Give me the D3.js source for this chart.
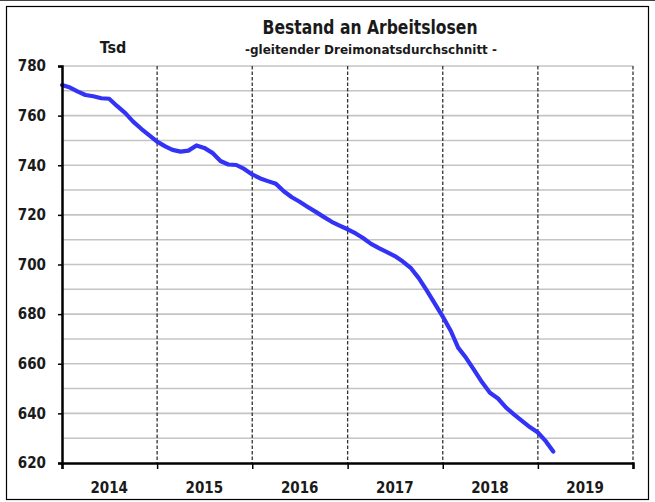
<!DOCTYPE html>
<html>
<head>
<meta charset="utf-8">
<script src="https://cdn.jsdelivr.net/npm/d3@7"></script>
<style>
  body { margin: 0; background: #fff; }
  svg text { font-family: "Liberation Sans Narrow", "DejaVu Sans Condensed", "Open Sans", sans-serif; font-weight: bold; fill: #1a1a1a; }
</style>
</head>
<body>
<div class="chart"></div>
<script>
// Bestand an Arbeitslosen, gleitender Dreimonatsdurchschnitt (Tsd), monthly from Jan 2014
var startMonth = new Date(2014, 0, 1);
var values = [
  772.3, 771.3, 769.8, 768.3, 767.8, 767.0, 766.8, 763.8, 761.0, 757.6, 754.7, 752.1,
  749.5, 747.6, 746.2, 745.5, 745.9, 748.0, 747.0, 745.0, 741.7, 740.3, 740.1, 738.5,
  736.3, 734.7, 733.6, 732.5, 729.5, 727.1, 725.3, 723.2, 721.2, 719.2, 717.2, 715.7,
  714.2, 712.5, 710.7, 708.3, 706.6, 705.0, 703.4, 701.2, 698.5, 694.5, 689.5, 684.3,
  679.0, 673.2, 666.5, 662.3, 657.5, 652.5, 648.3, 646.0, 642.3, 639.6, 637.0, 634.5,
  632.3, 628.7, 624.6
];
var years = [2014, 2015, 2016, 2017, 2018, 2019];
var yTicks = [620, 640, 660, 680, 700, 720, 740, 760, 780];
var title = "Bestand an Arbeitslosen";
var subtitle = "-gleitender Dreimonatsdurchschnitt -";
var unit = "Tsd";

var W = 655, H = 502;
var margin = {top: 66, right: 22, bottom: 39, left: 62};

var data = values.map((v, i) => ({date: d3.timeMonth.offset(startMonth, i), value: v}));

var x = d3.scaleTime()
  .domain([new Date(years[0], 0, 1), new Date(years[years.length - 1] + 1, 0, 1)])
  .range([margin.left, W - margin.right]);

var y = d3.scaleLinear()
  .domain([620, 780])
  .range([H - margin.bottom, margin.top]);

var svg = d3.select(".chart").append("svg")
  .attr("width", W)
  .attr("height", H);

// outer frame
svg.append("line")
  .attr("x1", 0).attr("x2", W).attr("y1", 0.5).attr("y2", 0.5)
  .attr("stroke", "#444").attr("stroke-width", 1);
svg.append("rect")
  .attr("x", 6.5).attr("y", 6.5)
  .attr("width", W - 13).attr("height", H - 9)
  .attr("fill", "none").attr("stroke", "#000").attr("stroke-width", 1.2);

// horizontal grid every 10
var gridVals = d3.range(630, 781, 10);
svg.append("g").selectAll("line")
  .data(gridVals)
  .enter().append("line")
    .attr("x1", margin.left).attr("x2", W - margin.right)
    .attr("y1", d => y(d)).attr("y2", d => y(d))
    .attr("stroke", "#c4c4c4").attr("stroke-width", 1.6);

// year separators
var yearBounds = years.map(yr => new Date(yr + 1, 0, 1));
svg.append("g").selectAll("line")
  .data(yearBounds)
  .enter().append("line")
    .attr("x1", d => x(d)).attr("x2", d => x(d))
    .attr("y1", margin.top).attr("y2", H - margin.bottom)
    .attr("stroke", "#333").attr("stroke-width", 1.3)
    .attr("stroke-dasharray", "3.5,2");

// data line
var line = d3.line()
  .x(d => x(d.date))
  .y(d => y(d.value));

svg.append("path")
  .datum(data)
  .attr("d", line)
  .attr("fill", "none")
  .attr("stroke", "#3333f6")
  .attr("stroke-width", 4.2)
  .attr("stroke-linejoin", "round")
  .attr("stroke-linecap", "round");

// axes
var xAxis = d3.axisBottom(x)
  .tickValues([new Date(years[0], 0, 1)].concat(yearBounds))
  .tickSize(6)
  .tickFormat("");
var gX = svg.append("g")
  .attr("transform", `translate(0, ${H - margin.bottom})`)
  .call(xAxis);
gX.select(".domain").attr("stroke", "#000").attr("stroke-width", 2.5);
gX.selectAll(".tick line").attr("stroke", "#000").attr("stroke-width", 1.5);

gX.selectAll(".year-label")
  .data(years)
  .enter().append("text")
    .attr("class", "year-label")
    .attr("x", d => x(new Date(d, 6, 1)))
    .attr("y", 30)
    .attr("text-anchor", "middle")
    .attr("font-size", 15)
    .text(d => d);

var yAxis = d3.axisLeft(y)
  .tickValues(yTicks)
  .tickSize(4)
  .tickPadding(12);
var gY = svg.append("g")
  .attr("transform", `translate(${margin.left}, 0)`)
  .call(yAxis);
gY.select(".domain").attr("stroke", "#000").attr("stroke-width", 2.5);
gY.selectAll(".tick line").attr("stroke", "#000").attr("stroke-width", 1.5);
gY.selectAll(".tick text")
  .attr("font-size", 15)
  .attr("font-family", null);

// titles
svg.append("text")
  .attr("x", 370).attr("y", 34)
  .attr("text-anchor", "middle")
  .attr("font-size", 20)
  .attr("textLength", 215)
  .attr("lengthAdjust", "spacingAndGlyphs")
  .text(title);
svg.append("text")
  .attr("x", 371).attr("y", 54)
  .attr("text-anchor", "middle")
  .attr("font-size", 13)
  .attr("textLength", 252)
  .attr("lengthAdjust", "spacingAndGlyphs")
  .text(subtitle);
svg.append("text")
  .attr("x", 113).attr("y", 53)
  .attr("text-anchor", "middle")
  .attr("font-size", 16)
  .text(unit);
</script>
</body>
</html>
